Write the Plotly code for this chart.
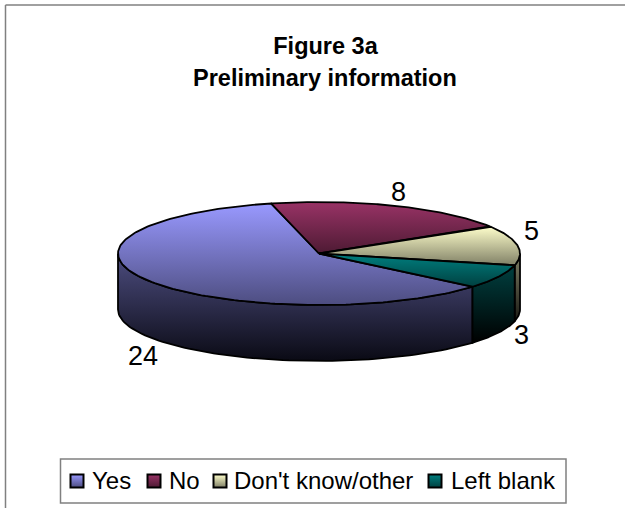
import numpy as np
import plotly.graph_objects as go

categories = ["Yes", "No", "Don't know/other", "Left blank"]
values = [24, 8, 5, 3]
title_line1 = "Figure 3a"
title_line2 = "Preliminary information"

top_colors = ["#9999FF", "#993366", "#FFFFCC", "#008080"]
mid_colors = ["#4D4D80", "#4D1A33", "#808066", "#004040"]
dark_colors = ["#0A0A14", "#0A0408", "#1A1A14", "#000000"]

W, H = 625, 508
CX, CY, RX, RY, DEPTH = 319, 253.5, 201, 51.5, 56
START = 130.2  # degrees clockwise from the top of the ellipse

label_pos = [(143, 356), (398, 192), (531, 231), (521, 335)]
legend_swatch_x = [77, 154, 220, 435]
legend_text_x = [90, 167, 232, 449]


def ex(a):
    return CX + RX * np.sin(np.radians(a))


def ey(a):
    return CY - RY * np.cos(np.radians(a))


fig = go.Figure()

total = sum(values)
spans = []
a0 = START
for v in values:
    a1 = a0 + 360 * v / total
    spans.append((a0, a1))
    a0 = a1

# side walls: only the front half of the disc is visible (90..270 degrees)
for i, (a0, a1) in enumerate(spans):
    for shift in (0, -360):
        lo, hi = max(a0 + shift, 90), min(a1 + shift, 270)
        if lo >= hi:
            continue
        t = np.linspace(lo, hi, 80)
        xs = np.concatenate([ex(t), ex(t[::-1]), [ex(t[0])]])
        ys = np.concatenate([ey(t), ey(t[::-1]) + DEPTH, [ey(t[0])]])
        fig.add_trace(go.Scatter(
            x=xs, y=ys, mode="lines", fill="toself",
            line=dict(color="black", width=1.8),
            fillgradient=dict(type="vertical",
                              colorscale=[[0, mid_colors[i]], [1, dark_colors[i]]],
                              start=float(ys.min()), stop=float(ys.max())),
            hoverinfo="skip", showlegend=False))

# top faces
for i, (a0, a1) in enumerate(spans):
    t = np.linspace(a0, a1, 160)
    xs = np.concatenate([[CX], ex(t), [CX]])
    ys = np.concatenate([[CY], ey(t), [CY]])
    fig.add_trace(go.Scatter(
        x=xs, y=ys, mode="lines", fill="toself",
        line=dict(color="black", width=1.8),
        fillgradient=dict(type="vertical",
                          colorscale=[[0, top_colors[i]], [1, mid_colors[i]]],
                          start=float(ys.min()), stop=float(ys.max())),
        name=categories[i], text=[f"{categories[i]}: {values[i]}"] * len(xs),
        hoverinfo="text", showlegend=False))

# legend swatches
fig.add_trace(go.Scatter(
    x=legend_swatch_x, y=[481] * 4, mode="markers",
    marker=dict(symbol="square", size=13, color=top_colors,
                gradient=dict(type="vertical", color=mid_colors),
                line=dict(color="black", width=2)),
    hoverinfo="skip", showlegend=False))

annotations = []
for v, (x, y) in zip(values, label_pos):
    annotations.append(dict(x=x, y=y, text=str(v), showarrow=False,
                            font=dict(size=27, color="black")))
for c, x in zip(categories, legend_text_x):
    annotations.append(dict(x=x, y=480, text=c, showarrow=False, xanchor="left",
                            font=dict(size=24, color="black")))
annotations.append(dict(x=325, y=78, text=f"<b>{title_line2}</b>", showarrow=False,
                        font=dict(size=23.5, color="black")))

fig.update_layout(
    width=W, height=H, margin=dict(l=0, r=0, t=0, b=0),
    paper_bgcolor="white", plot_bgcolor="white",
    font=dict(family="Liberation Sans"),
    title=dict(text=f"<b>{title_line1}</b>", x=325.5 / W, xanchor="center",
               y=1 - 46 / H, yanchor="middle", font=dict(size=23.5, color="black")),
    xaxis=dict(range=[0, W], visible=False, fixedrange=True),
    yaxis=dict(range=[H, 0], visible=False, fixedrange=True),
    annotations=annotations,
    shapes=[
        dict(type="line", x0=5.5, x1=5.5, y0=5, y1=H, line=dict(color="#808080", width=1.5), layer="below"),
        dict(type="line", x0=5.5, x1=W, y0=5, y1=5, line=dict(color="#808080", width=1.5), layer="below"),
        dict(type="rect", x0=60.5, x1=566, y0=459, y1=503, line=dict(color="#808080", width=1.5),
             fillcolor="white", layer="below"),
    ],
)
fig.write_html("out.html", config=dict(displayModeBar=False),
               post_script="document.body.style.margin='0';document.documentElement.style.overflow='hidden';")
